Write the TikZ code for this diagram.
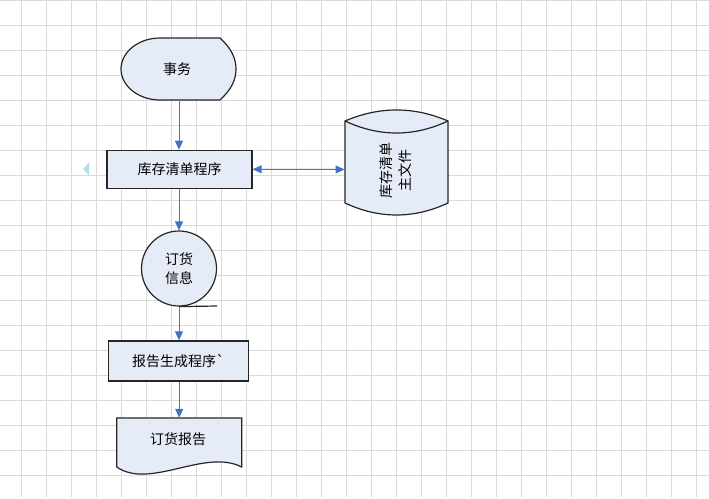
\documentclass[tikz,border=0pt]{standalone}
\usepackage{fontspec}
\newfontfamily\cjk{Noto Sans CJK SC}
\usetikzlibrary{arrows.meta}
\definecolor{boxfill}{RGB}{230,236,247}
\definecolor{arrowblue}{RGB}{68,114,196}
\definecolor{gridgray}{RGB}{218,218,218}
\definecolor{tricol}{RGB}{180,220,236}
\begin{document}
\begin{tikzpicture}[x=1pt,y=-1pt,
  gridline/.style={draw=gridgray, line width=1pt},
  shapeline/.style={draw=black!85, line width=1.2pt, fill=boxfill},
  conn/.style={draw=arrowblue, line width=1pt, -{Triangle[length=9pt,width=8pt]}},
  dconn/.style={draw=arrowblue, line width=1pt, {Triangle[length=9pt,width=8pt]}-{Triangle[length=9pt,width=8pt]}},
  lbl/.style={font=\cjk\fontsize{14}{19}\selectfont, align=center, inner sep=0pt, text=black},
  holder/.style={inner sep=0pt, draw=none, fill=none}]
\useasboundingbox (0,0) rectangle (709,498);
\fill[white] (0,0) rectangle (709,498);
\foreach \x in {21,46,...,696} \draw[gridline] (\x,0) -- (\x,497);
\foreach \y in {0.5,25,50,...,475} \draw[gridline] (0,\y) -- (709,\y);

% event (display shape)
\node[holder, minimum width=115pt, minimum height=62pt] (evt) at (179,69) {};
\draw[shapeline] (160,38) -- (220,38)
  .. controls (231,48) and (236,58) .. (236,69)
  .. controls (236,80) and (231,90) .. (220,100)
  -- (160,100)
  .. controls (138.5,100) and (121,86) .. (121,69)
  .. controls (121,52) and (138.5,38) .. (160,38) -- cycle;
\node[lbl] (evtt) at (177,69) {事务};

% inventory program
\node[shapeline, lbl, rectangle, minimum width=145pt, minimum height=38pt] (inv) at (179.5,169.3) {库存清单程序};

% small triangle marker
\coordinate (tri) at (83,169);
\fill[tricol] (tri) -- ++(6,-6.5) -- ++(0,13) -- cycle;

% master file (cylinder)
\node[holder, minimum width=103.5pt, minimum height=90pt] (mf) at (396.5,169.5) {};
\draw[shapeline] (345,121)
  .. controls (379.3,106.3) and (413.7,106.3) .. (448,121)
  -- (448,203)
  .. controls (413.7,219) and (379.3,219) .. (345,203)
  -- cycle;
\draw[shapeline, fill=none] (345,121)
  .. controls (379.3,137) and (413.7,137) .. (448,121);
\node[lbl, rotate=90] (mft) at (396,170.5) {库存清单\\主文件};

% order info (sequential data)
\node[shapeline, lbl, circle, minimum size=75pt] (ord) at (179,268.5) {订货\\信息};
\coordinate (tail) at (217,306);
\draw[draw=black!85, line width=1.2pt] (ord.south) -- (tail);

% report generation program
\node[shapeline, lbl, rectangle, minimum width=140pt, minimum height=40pt] (rep) at (178.3,360.9) {报告生成程序\char96};

% order report (document)
\node[holder, minimum width=125pt, minimum height=49pt] (doc) at (179.2,442.5) {};
\draw[shapeline] (116.7,418) -- (241.7,418) -- (241.7,467)
  .. controls (205,448) and (150,490) .. (116.7,467) -- cycle;
\node[lbl] (doct) at (178,439) {订货报告};

% connectors
\draw[conn] (evt.south) -- (evt.south |- inv.north);
\draw[dconn] (inv.east) -- (mf.west);
\draw[conn] (inv.south -| ord.north) -- (ord.north);
\draw[conn] (ord.south) -- (ord.south |- rep.north);
\draw[conn] (rep.south -| doc.north) -- (doc.north);
\end{tikzpicture}
\end{document}
